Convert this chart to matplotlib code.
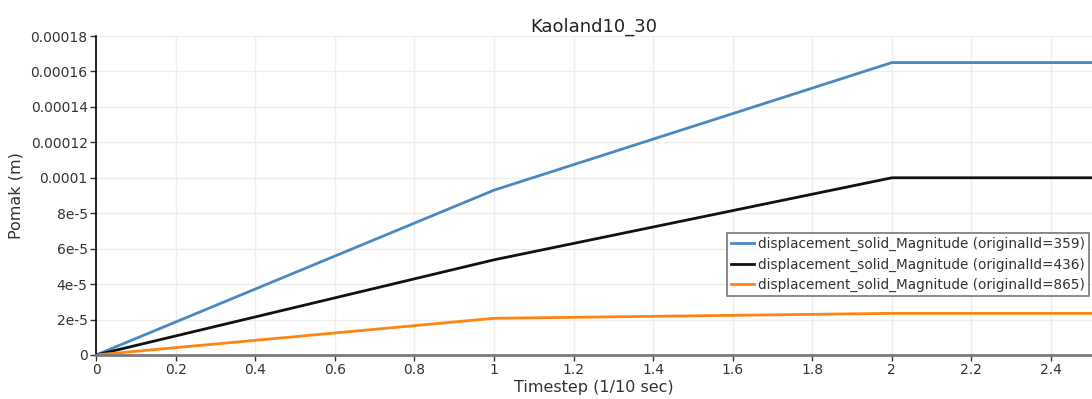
import matplotlib
matplotlib.use("Agg")
import matplotlib.pyplot as plt

timesteps = [0, 1, 2, 3]
disp_359 = [0.0, 9.3e-5, 1.65e-4, 1.65e-4]
disp_436 = [0.0, 5.37e-5, 1.0e-4, 1.0e-4]
disp_865 = [0.0, 2.07e-5, 2.35e-5, 2.35e-5]
labels = [
    "displacement_solid_Magnitude (originalId=359)",
    "displacement_solid_Magnitude (originalId=436)",
    "displacement_solid_Magnitude (originalId=865)",
]
colors = ["#4a88c2", "#111111", "#ff8411"]
yticks = [0, 2e-5, 4e-5, 6e-5, 8e-5, 1e-4, 1.2e-4, 1.4e-4, 1.6e-4, 1.8e-4]
ytick_labels = ["0", "2e-5", "4e-5", "6e-5", "8e-5", "0.0001", "0.00012",
                "0.00014", "0.00016", "0.00018"]
xticks = [0, 0.2, 0.4, 0.6, 0.8, 1, 1.2, 1.4, 1.6, 1.8, 2, 2.2, 2.4]
xtick_labels = ["0", "0.2", "0.4", "0.6", "0.8", "1", "1.2", "1.4", "1.6",
                "1.8", "2", "2.2", "2.4"]

plt.rcParams["font.family"] = ["DejaVu Sans"]
fig = plt.figure(figsize=(10.92, 3.99), dpi=100)
ax = fig.add_axes([96 / 1092, 44 / 399, 1 - 96 / 1092, 319 / 399])

for series, lab, c in zip([disp_359, disp_436, disp_865], labels, colors):
    ax.plot(timesteps, series, color=c, lw=2, label=lab, clip_on=True)

ax.set_xlim(0, 2.503)
ax.set_ylim(0, 1.8e-4)
ax.set_xticks(xticks)
ax.set_xticklabels(xtick_labels)
ax.set_yticks(yticks)
ax.set_yticklabels(ytick_labels)
ax.grid(True, color="#eeeeee", lw=1)
ax.set_axisbelow(True)

for s in ["top", "right"]:
    ax.spines[s].set_visible(False)
ax.spines["left"].set_color("#000000")
ax.spines["left"].set_linewidth(1.2)
ax.spines["bottom"].set_color("#7a7a7a")
ax.spines["bottom"].set_linewidth(2)
ax.tick_params(axis="both", direction="out", length=4, width=1,
               labelsize=10, labelcolor="#333333", color="#333333", pad=2)

ax.set_title("Kaoland10_30", fontsize=13, color="#222222", pad=3)
ax.set_xlabel("Timestep (1/10 sec)", fontsize=11.5, color="#333333", labelpad=2)
ax.set_ylabel("Pomak (m)", fontsize=11.5, color="#333333", labelpad=5)

leg = ax.legend(loc="upper left", bbox_to_anchor=(0.6335, 0.382),
                fontsize=9.8, frameon=True, fancybox=False, borderpad=0.3,
                labelspacing=0.45, handlelength=1.7, handletextpad=0.25,
                borderaxespad=0)
leg.get_frame().set_edgecolor("#555555")
leg.get_frame().set_linewidth(1.2)
for t in leg.get_texts():
    t.set_color("#333333")

fig.savefig("out.png", dpi=100)
